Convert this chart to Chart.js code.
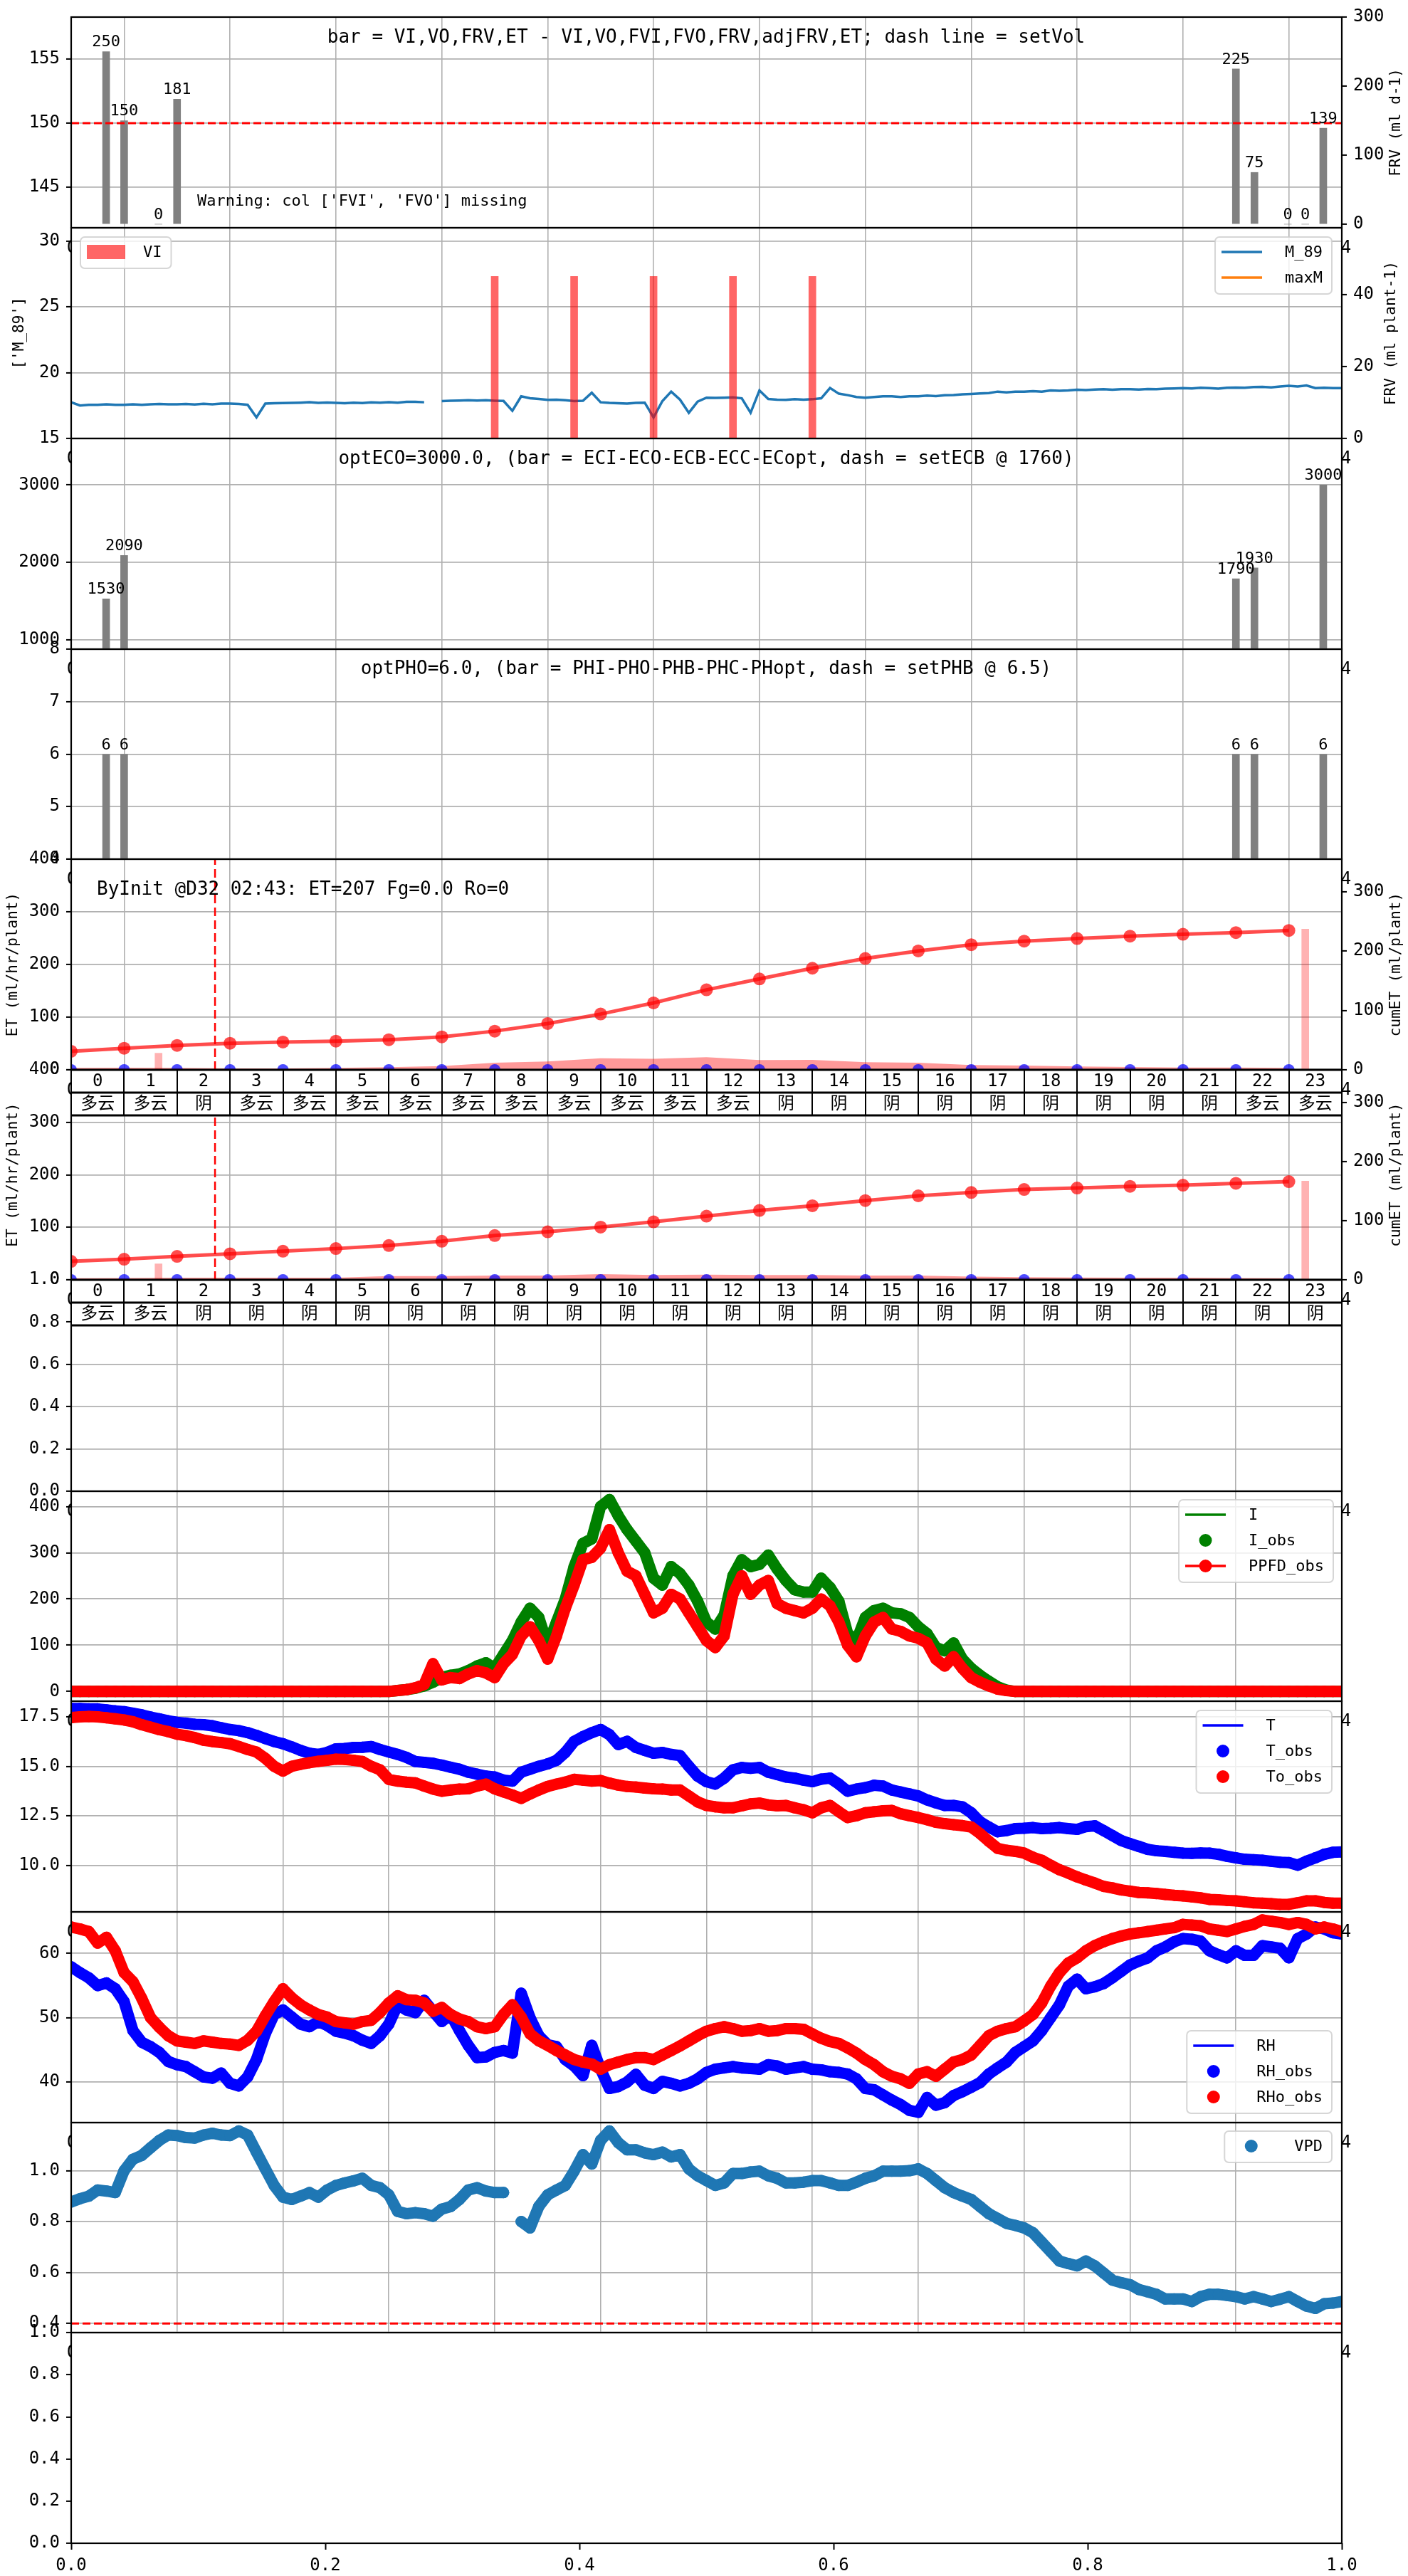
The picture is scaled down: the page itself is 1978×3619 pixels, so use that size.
<!DOCTYPE html>
<html><head><meta charset="utf-8">
<script src="https://cdn.jsdelivr.net/npm/chart.js@4.4.0/dist/chart.umd.min.js"></script>
<style>
html,body{margin:0;padding:0;background:#fff;}
body{width:1978px;height:3619px;position:relative;overflow:hidden;}
canvas{position:absolute;left:0;}
</style></head><body>
<script>
// ================= DATA =================
const xGridHours = [0,2,4,6,8,10,12,14,16,18,20,22,24];
const hourCats = [0,1,2,3,4,5,6,7,8,9,10,11,12,13,14,15,16,17,18,19,20,21,22,23];
const t10 = Array.from({length:145}, (_, i) => i / 6); // 10-min time stamps in hours

// Panel 1 : FRV bars (right axis) + setVol
const frvHours = [0.66,1.0,1.65,2.0,22.0,22.35,22.98,23.31,23.65];
const frvVals  = [250,150,0,181,225,75,0,0,139];
const setVol = 150;
const p1LeftTicks = [145,150,155];
const p1RightTicks = [0,100,200,300];

// Panel 2 : M_89 line + VI bars
const viHours = [8,9.5,11,12.5,14];
const viVals  = [45,45,45,45,45];
const m89 = [
 17.75,17.5,17.55,17.55,17.6,17.55,
 17.56,17.6,17.55,17.6,17.62,17.6,
 17.6,17.62,17.58,17.64,17.6,17.65,
 17.65,17.62,17.56,16.6,17.65,17.68,
 17.69,17.7,17.72,17.75,17.7,17.73,
 17.7,17.68,17.72,17.69,17.74,17.72,
 17.75,17.72,17.78,17.78,17.75,null,
 17.84,17.86,17.88,17.9,17.88,17.9,
 17.87,17.85,17.1,18.2,18.05,18.0,
 17.93,17.95,17.9,17.84,17.86,18.47,
 17.75,17.7,17.68,17.65,17.7,17.72,
 16.6,17.84,18.56,17.95,16.95,17.8,
 18.1,18.08,18.1,18.12,18.05,16.95,
 18.65,18.0,17.95,17.93,17.98,17.95,
 17.98,18.05,18.83,18.4,18.29,18.15,
 18.1,18.15,18.2,18.2,18.15,18.2,
 18.2,18.25,18.22,18.29,18.3,18.35,
 18.38,18.42,18.45,18.56,18.5,18.55,
 18.56,18.6,18.55,18.65,18.62,18.65,
 18.7,18.68,18.72,18.74,18.7,18.74,
 18.74,18.72,18.76,18.75,18.78,18.8,
 18.83,18.8,18.85,18.82,18.78,18.85,
 18.87,18.85,18.9,18.92,18.88,18.95,
 19.0,18.95,19.02,18.83,18.85,18.83,
 18.83];
const maxM = [];
const p2LeftTicks = [15,20,25,30];
const p2RightTicks = [0,20,40];

// Panel 3 : EC bars
const ecHours = [0.66,1.0,22.0,22.35,23.65];
const ecVals  = [1530,2090,1790,1930,3000];
const p3Ticks = [1000,2000,3000];

// Panel 4 : PH bars
const phHours = [0.66,1.0,22.0,22.35,23.65];
const phVals  = [6,6,6,6,6];
const p4Ticks = [4,5,6,7,8];

// Panels 5 / 6 : hourly ET
const etMarkTime = 2.717; // 02:43
const cumEtInit = [31.2,36.4,41.2,44.8,46.8,48.4,50.8,55.6,65.2,78,94,112.8,134.8,153.2,171.2,187.6,200.4,210.8,216.8,221.2,225.2,228.4,231.2,234.8];
const etInit    = [3.6,4,3.6,2.7,2.7,3.6,5,7,13.6,15.8,22,20.8,24,18.5,19,14.5,13.6,9,8,6.3,5.4,4.5,4.5,3.6];
const etObsInit = [0,0,0,0,0,0,0,0,0,0,0,0,0,0,0,0,0,0,0,0,0,0,0,0];
const cumEtWoFv = [31.2,34.8,39.6,44,48.4,52.8,58,65.2,74.8,81.2,89.2,98,107.6,117.2,125.2,134,142,147.6,152.8,155.2,158,160,163.2,166];
const etWoFv    = [3,3.5,4,4,4,4,7,7,8,8,11,9,10,9,9,8,8,6,5,4.5,4,4,3.5,3];
const etObsWoFv = [0,0,0,0,0,0,0,0,0,0,0,0,0,0,0,0,0,0,0,0,0,0,0,0];
const pinkHours = [1.65,23.31];
const pinkInit  = [28,237];
const pinkWoFv  = [27,167];
const weatherInit = ['多云','多云','阴','多云','多云','多云','多云','多云','多云','多云','多云','多云','多云','阴','阴','阴','阴','阴','阴','阴','阴','阴','多云','多云'];
const weatherWoFv = ['多云','多云','阴','阴','阴','阴','阴','阴','阴','阴','阴','阴','阴','阴','阴','阴','阴','阴','阴','阴','阴','阴','阴','阴'];
const etLeftTicks = [0,100,200,300,400];
const etRightTicks = [0,100,200,300];
const unitTicks = [0,0.2,0.4,0.6,0.8,1.0];

// Panel 8 : light
const iObs = [
 0,0,0,0,0,0, 0,0,0,0,0,0, 0,0,0,0,0,0, 0,0,0,0,0,0, 0,0,0,0,0,0, 0,0,0,0,0,0,
 0,2,4,7,12,20,
 30,35,38,45,55,62,
 50,80,110,150,180,160,
 100,150,200,270,320,330,
 400,415,380,350,325,300,
 245,230,270,255,230,195,
 150,135,165,250,285,270,
 275,295,265,240,220,215,
 215,245,225,195,125,110,
 160,175,180,170,168,160,
 140,125,95,88,105,70,
 50,35,22,10,3,0,
 0,0,0,0,0,0, 0,0,0,0,0,0, 0,0,0,0,0,0, 0,0,0,0,0,0, 0,0,0,0,0,0, 0,0,0,0,0,0,
 0];
const ppfdObs = [
 0,0,0,0,0,0, 0,0,0,0,0,0, 0,0,0,0,0,0, 0,0,0,0,0,0, 0,0,0,0,0,0, 0,0,0,0,0,0,
 0,2,4,8,15,60,
 25,30,28,38,45,40,
 30,60,80,120,140,110,
 70,120,180,230,285,290,
 310,350,300,260,250,210,
 170,180,210,200,170,140,
 110,95,120,210,250,210,
 230,240,190,180,175,170,
 180,200,185,150,100,75,
 120,150,160,135,130,120,
 115,105,70,55,75,50,
 30,20,12,5,2,0,
 0,0,0,0,0,0, 0,0,0,0,0,0, 0,0,0,0,0,0, 0,0,0,0,0,0, 0,0,0,0,0,0, 0,0,0,0,0,0,
 0];
const p8Ticks = [0,100,200,300,400];

// Panel 9 : temperature
const tObs = [
 17.92,17.92,17.9,17.9,17.85,17.8,
 17.76,17.68,17.6,17.49,17.4,17.3,
 17.22,17.18,17.12,17.1,17.05,16.95,
 16.86,16.8,16.7,16.56,16.4,16.25,
 16.14,15.98,15.8,15.66,15.6,15.7,
 15.88,15.9,15.95,15.96,16.0,15.85,
 15.72,15.6,15.45,15.24,15.2,15.15,
 15.06,14.95,14.85,14.7,14.6,14.5,
 14.46,14.3,14.25,14.7,14.85,15.0,
 15.12,15.3,15.7,16.26,16.5,16.7,
 16.86,16.6,16.1,16.26,15.95,15.8,
 15.66,15.7,15.6,15.54,15.0,14.5,
 14.22,14.1,14.4,14.82,14.94,14.9,
 14.94,14.7,14.58,14.46,14.4,14.3,
 14.22,14.35,14.4,14.1,13.74,13.85,
 13.92,14.04,14.0,13.8,13.7,13.6,
 13.5,13.3,13.15,13.02,13.02,12.95,
 12.65,12.2,11.93,11.69,11.75,11.85,
 11.87,11.9,11.85,11.87,11.9,11.85,
 11.81,11.95,11.99,11.75,11.5,11.25,
 11.09,10.95,10.8,10.73,10.7,10.65,
 10.61,10.6,10.62,10.61,10.55,10.45,
 10.37,10.3,10.28,10.25,10.2,10.15,
 10.13,10.0,10.2,10.37,10.55,10.65,
 10.67];
const toObs = [
 17.46,17.5,17.52,17.5,17.45,17.4,
 17.34,17.25,17.1,16.98,16.85,16.75,
 16.62,16.55,16.45,16.32,16.25,16.2,
 16.14,16.0,15.85,15.72,15.4,15.0,
 14.76,15.0,15.1,15.18,15.25,15.3,
 15.36,15.35,15.3,15.24,15.0,14.82,
 14.34,14.25,14.2,14.16,14.0,13.85,
 13.74,13.8,13.85,13.86,14.0,14.1,
 13.86,13.7,13.55,13.38,13.6,13.8,
 13.98,14.1,14.2,14.34,14.3,14.25,
 14.28,14.15,14.05,13.98,13.95,13.9,
 13.86,13.85,13.8,13.8,13.5,13.2,
 13.02,12.95,12.9,12.9,13.0,13.1,
 13.14,13.05,13.0,13.02,12.9,12.8,
 12.65,12.9,13.02,12.7,12.41,12.5,
 12.65,12.7,12.75,12.77,12.6,12.5,
 12.41,12.3,12.17,12.1,12.05,12.0,
 11.93,11.6,11.21,10.85,10.75,10.7,
 10.61,10.4,10.25,10.0,9.77,9.6,
 9.41,9.25,9.1,8.93,8.85,8.75,
 8.69,8.62,8.6,8.57,8.52,8.48,
 8.45,8.4,8.35,8.27,8.25,8.22,
 8.2,8.15,8.1,8.08,8.05,8.02,
 8.02,8.1,8.2,8.2,8.12,8.08,
 8.08];
const p9Ticks = [10,12.5,15,17.5];

// Panel 10 : relative humidity
const rhObs = [
 57.9,57,56.2,55,55.4,54.5,
 52.5,48,46.2,45.5,44.6,43.2,
 42.7,42.4,41.6,40.8,40.6,41.4,
 39.8,39.4,40.8,43.5,47.5,50.5,
 51.2,50.1,49,48.6,49.4,48.8,
 47.9,47.6,47.2,46.5,46,47.2,
 49,52,51.2,50.8,52.7,51,
 49.4,50.5,48,45.7,43.8,43.9,
 44.6,44.9,44.5,53.8,50,47.2,
 45.8,45.5,43.5,42.5,41,45.7,
 42,39,39.3,40,41.2,39.5,
 39,40.1,39.8,39.4,39.8,40.5,
 41.5,42,42.2,42.4,42.2,42.1,
 42,42.7,42.5,42,42.2,42.4,
 42,41.9,41.6,41.5,41.25,40.5,
 39,38.8,38,37.2,36.5,35.6,
 35.3,37.6,36.4,36.8,37.9,38.5,
 39.2,39.9,41.25,42.2,43.1,44.6,
 45.5,46.4,48,50,52,54.9,
 56,54.5,54.8,55.3,56.2,57.2,
 58.2,58.8,59.3,60.4,61,61.8,
 62.3,62.2,61.9,60.4,59.8,59.3,
 60.4,59.7,59.7,61.2,61,60.8,
 59.3,62.3,63,64.1,63.8,63.2,
 63];
const rhoObs = [
 64.1,63.8,63.4,61.6,62.5,60.4,
 57,55.6,53,50,48.5,47.2,
 46.4,46.2,46,46.4,46.2,46,
 45.9,45.7,46.5,47.9,50.3,52.5,
 54.5,53.1,52,51.2,50.5,50.1,
 49.4,49.2,49,49.4,49.6,50.8,
 52.3,53.4,52.8,52.7,52.3,51,
 51.6,50.5,49.8,49.4,48.6,48.3,
 48.6,50.5,52,50.1,47.5,46.4,
 45.7,44.9,44.2,43.5,43.1,42.8,
 42,42.7,43.1,43.5,43.8,43.8,
 43.5,44.2,44.9,45.6,46.4,47.2,
 47.9,48.3,48.6,48.3,47.9,48,
 48.3,47.9,48,48.3,48.3,48.2,
 47.5,46.8,46.3,46,45.3,44.5,
 43.5,42.7,41.6,40.9,40.5,39.8,
 41.25,41.6,40.9,42,43.1,43.5,
 44.2,45.7,47.2,47.9,48.3,48.6,
 49.5,50.5,52.3,54.9,57,58.5,
 59.3,60.4,61.2,61.8,62.3,62.7,
 63,63.2,63.4,63.6,63.8,64,
 64.5,64.4,64.3,63.8,63.6,63.4,
 63.8,64.2,64.5,65.2,65,64.8,
 64.5,64.8,64.5,63.8,64.1,63.8,
 63.4];
const p10Ticks = [40,50,60];

// Panel 11 : VPD
const vpdObs = [
 0.877,0.89,0.9,0.924,0.92,0.914,
 1.0,1.045,1.06,1.09,1.119,1.14,
 1.138,1.13,1.128,1.14,1.147,1.14,
 1.138,1.156,1.14,1.073,1.007,0.942,
 0.896,0.887,0.9,0.914,0.896,0.924,
 0.942,0.952,0.96,0.97,0.942,0.933,
 0.905,0.84,0.831,0.835,0.831,0.821,
 0.849,0.859,0.887,0.924,0.933,0.92,
 0.914,0.914,null,0.8,0.775,0.86,
 0.905,0.924,0.942,0.998,1.063,1.026,
 1.119,1.156,1.11,1.082,1.082,1.07,
 1.063,1.073,1.054,1.063,1.007,0.98,
 0.961,0.942,0.952,0.989,0.989,0.995,
 0.998,0.98,0.97,0.952,0.952,0.955,
 0.961,0.961,0.952,0.942,0.942,0.955,
 0.97,0.98,0.998,0.998,0.998,1.0,
 1.007,0.989,0.961,0.933,0.914,0.9,
 0.887,0.859,0.831,0.812,0.793,0.785,
 0.775,0.756,0.719,0.682,0.645,0.635,
 0.626,0.645,0.626,0.598,0.57,0.56,
 0.552,0.533,0.524,0.514,0.496,0.496,
 0.496,0.486,0.505,0.514,0.514,0.51,
 0.505,0.496,0.505,0.496,0.486,0.495,
 0.505,0.486,0.468,0.459,0.477,0.48,
 0.486];
const vpdSet = 0.4;
const p11Ticks = [0.4,0.6,0.8,1.0];

// ================= LAYOUT / HELPERS =================
const FONT = '"DejaVu Sans Mono","Noto Sans CJK SC",monospace';
Chart.defaults.font.family = FONT;
Chart.defaults.color = '#000';
const W = 1978, L = 100, R = 1885;
const TOPS = [24,320,616,912,1207,1503,1798,2095,2390,2686,2982,3277,3573];
const GRID = '#b0b0b0';
const DECO = {};

function xy(xs, ys){ return xs.map((x,i)=>({x:x, y:ys[i]})); }
function xAxis(){
  return {type:'linear', min:0, max:24, offset:false,
    afterBuildTicks: s => { s.ticks = xGridHours.map(v=>({value:v})); },
    afterFit: s => { s.height = 0; },
    ticks:{display:false},
    grid:{color:GRID, lineWidth:1.6, drawTicks:false},
    border:{display:false}};
}
function yAxis(pos, min, max, vals, fmt, grid){
  return {type:'linear', position:pos, min:min, max:max,
    afterBuildTicks: s => { s.ticks = vals.map(v=>({value:v})); },
    afterFit: s => { s.width = pos==='left' ? L : (W-R); },
    ticks:{color:'#000', font:{family:FONT,size:24}, padding:9, autoSkip:false, maxRotation:0,
      callback: v => fmt ? fmt(v) : String(v)},
    grid:{color:GRID, lineWidth:1.8, drawOnChartArea:grid, tickColor:'#000', tickLength:7, tickWidth:2},
    border:{display:false}};
}
const f1 = v => v.toFixed(1);

function roundRect(ctx,x,y,w,h,r){
  ctx.beginPath(); ctx.moveTo(x+r,y); ctx.arcTo(x+w,y,x+w,y+h,r); ctx.arcTo(x+w,y+h,x,y+h,r);
  ctx.arcTo(x,y+h,x,y,r); ctx.arcTo(x,y,x+w,y,r); ctx.closePath();
}
function drawLegend(ctx, lg, oy){
  ctx.font = '22px ' + FONT;
  const tw = Math.max.apply(null, lg.items.map(it => ctx.measureText(it.label).width));
  const hl = 57, pad = 9, gap = lg.gap || 32, rowH = 36;
  const w = pad + hl + gap + tw + 13;
  const x0 = (lg.left !== undefined) ? lg.left : lg.right - w;
  const y0 = lg.top - oy;
  const h = 21 + (lg.items.length-1)*rowH + 23;
  roundRect(ctx, x0, y0, w, h, 6);
  ctx.fillStyle = 'rgba(255,255,255,0.8)'; ctx.fill();
  ctx.strokeStyle = 'rgba(204,204,204,0.8)'; ctx.lineWidth = 2; ctx.stroke();
  lg.items.forEach((it, k) => {
    const cy = y0 + 21 + k*rowH, hx = x0 + pad;
    if (it.rect){ ctx.fillStyle = it.rect; ctx.fillRect(hx, cy-10, hl-3, 20); }
    if (it.line){ ctx.strokeStyle = it.line; ctx.lineWidth = 3.5; ctx.beginPath(); ctx.moveTo(hx,cy); ctx.lineTo(hx+hl,cy); ctx.stroke(); }
    if (it.marker){ ctx.fillStyle = it.marker; ctx.beginPath(); ctx.arc(hx+hl/2, cy, 9, 0, Math.PI*2); ctx.fill(); }
    ctx.fillStyle = '#000'; ctx.textAlign = 'left'; ctx.textBaseline = 'middle';
    ctx.fillText(it.label, hx + hl + gap, cy + 1);
  });
}

Chart.register({
  id:'deco',
  afterDatasetsDraw(chart){
    const o = DECO[chart.canvas.id]; if (!o) return;
    const ctx = chart.ctx, a = chart.chartArea, oy = o.oy;
    ctx.save();
    ctx.strokeStyle = '#000'; ctx.lineWidth = 2.2;
    ctx.strokeRect(a.left, a.top, a.right-a.left, a.bottom-a.top);
    (o.barLabels||[]).forEach(di => {
      const meta = chart.getDatasetMeta(di), ds = chart.data.datasets[di];
      ctx.font = '22px ' + FONT; ctx.fillStyle = '#000'; ctx.textAlign = 'center'; ctx.textBaseline = 'alphabetic';
      meta.data.forEach((el, j) => ctx.fillText(String(ds.data[j].y), el.x, el.y - 7));
    });
    (o.texts||[]).forEach(t => {
      ctx.font = (t.size||26) + 'px ' + FONT; ctx.fillStyle = '#000';
      ctx.textAlign = t.align || 'center'; ctx.textBaseline = 'middle';
      ctx.fillText(t.t, t.x, t.y - oy);
    });
    (o.vlabels||[]).forEach(t => {
      ctx.save(); ctx.translate(t.x, t.y - oy); ctx.rotate(-Math.PI/2);
      ctx.font = '21px ' + FONT; ctx.fillStyle = '#000'; ctx.textAlign = 'center'; ctx.textBaseline = 'middle';
      ctx.fillText(t.t, 0, 0); ctx.restore();
    });
    (o.legends||[]).forEach(lg => drawLegend(ctx, lg, oy));
    if (o.table){
      const xs = chart.scales.x, tb = o.table, y0 = tb.top - oy, rh = 32;
      const xl = xs.getPixelForValue(0), xr = xs.getPixelForValue(24);
      ctx.fillStyle = '#fff'; ctx.fillRect(xl, y0, xr-xl, rh*2);
      ctx.fillStyle = '#000'; ctx.textAlign = 'center'; ctx.textBaseline = 'middle';
      tb.rows.forEach((row, r) => {
        ctx.font = '24px ' + FONT;
        row.forEach((txt, k) => {
          const cx = (xs.getPixelForValue(k) + xs.getPixelForValue(k+1)) / 2;
          ctx.fillText(String(txt), cx, y0 + r*rh + rh/2 + 1);
        });
      });
      ctx.strokeStyle = '#000';
      ctx.lineWidth = 3;
      [0,1,2].forEach(r => { ctx.beginPath(); ctx.moveTo(xl, y0 + r*rh); ctx.lineTo(xr, y0 + r*rh); ctx.stroke(); });
      ctx.lineWidth = 2;
      for (let k = 0; k <= 24; k++){
        const px = Math.round(xs.getPixelForValue(k));
        ctx.beginPath(); ctx.moveTo(px, y0); ctx.lineTo(px, y0 + 2*rh); ctx.stroke();
      }
    }
    if (o.edge){
      ctx.font = '24px ' + FONT; ctx.fillStyle = '#000'; ctx.textAlign = 'center'; ctx.textBaseline = 'middle';
      const y = a.top + 29;
      ctx.save(); ctx.beginPath(); ctx.rect(0, 0, a.left - 1, chart.height); ctx.clip();
      ctx.fillText('0', a.left + 1, y); ctx.restore();
      ctx.save(); ctx.beginPath(); ctx.rect(a.right + 1, 0, chart.width, chart.height); ctx.clip();
      ctx.fillText('4', a.right + 6, y); ctx.restore();
    }
    ctx.restore();
  }
});

function build(i, cfg){
  const padT = 40, padB = cfg.padB || 40, xH = cfg.xH || 0;
  const top = TOPS[i], bot = TOPS[i+1];
  const H = (bot - top) + padT + padB + xH;
  const c = document.createElement('canvas');
  c.id = 'p' + i; c.width = W; c.height = H;
  c.style.top = (top - padT) + 'px'; c.style.width = W + 'px'; c.style.height = H + 'px';
  c.style.zIndex = String(100 - i);
  document.body.appendChild(c);
  DECO[c.id] = Object.assign({oy: top - padT, edge: i > 0}, cfg.deco || {});
  new Chart(c, {
    type:'line',
    data:{datasets: cfg.datasets},
    options:{
      responsive:false, maintainAspectRatio:false, animation:false, devicePixelRatio:1,
      layout:{padding:{top:padT, bottom:padB, left:0, right: cfg.hasRight ? 0 : (W-R)}},
      plugins:{legend:{display:false}, tooltip:{enabled:false}},
      elements:{line:{tension:0}},
      scales: cfg.scales
    }
  });
}
function dots(xs, ys, color, r, axis, order){
  return {type:'line', data:xy(xs,ys), yAxisID:axis||'y', showLine:false, pointRadius:r,
    pointBackgroundColor:color, pointBorderWidth:0, borderColor:color, order:order||0};
}
// dense observation markers: markers joined by a stroke as wide as the marker
function band(xs, ys, color, r, axis, order){
  return {type:'line', data:xy(xs,ys), yAxisID:axis||'y', showLine:true, borderWidth:2*r,
    borderCapStyle:'round', borderJoinStyle:'round', borderColor:color, pointRadius:r,
    pointBackgroundColor:color, pointBorderWidth:0, order:order||0};
}
function lineDs(xs, ys, color, lw, axis, order, extra){
  return Object.assign({type:'line', data:xy(xs,ys), yAxisID:axis||'y', borderColor:color, borderWidth:lw,
    pointRadius:0, fill:false, order:order||0}, extra||{});
}
function bars(xs, ys, color, axis, order){
  return {type:'bar', data:xy(xs,ys), yAxisID:axis||'y', backgroundColor:color, barThickness:10, order:order||0};
}

// ================= PANELS =================
build(0, {hasRight:true,
  datasets:[
    bars(frvHours, frvVals, '#808080', 'y2', 1),
    lineDs([0,24], [setVol,setVol], '#ff0000', 3, 'y', 0, {borderDash:[11,5]})
  ],
  scales:{x:xAxis(), y:yAxis('left',141.8,158.3,p1LeftTicks,null,true), y2:yAxis('right',-5.2,300,p1RightTicks,null,false)},
  deco:{barLabels:[0],
    texts:[{t:'bar = VI,VO,FRV,ET - VI,VO,FVI,FVO,FRV,adjFRV,ET; dash line = setVol', x:992, y:53},
           {t:"Warning: col ['FVI', 'FVO'] missing", x:277, y:283, size:22, align:'left'}],
    vlabels:[{t:'FRV (ml d-1)', x:1962, y:172}]}
});
build(1, {hasRight:true,
  datasets:[
    bars(viHours, viVals, 'rgba(255,0,0,0.6)', 'y2', 0),
    lineDs(t10, m89, '#1f77b4', 3.5, 'y', 1),
    lineDs(t10, maxM, '#ff7f0e', 3, 'y', 2)
  ],
  scales:{x:xAxis(), y:yAxis('left',15,31,p2LeftTicks,null,true), y2:yAxis('right',0,58.5,p2RightTicks,null,false)},
  deco:{vlabels:[{t:"['M_89']", x:28, y:468},{t:'FRV (ml plant-1)', x:1955, y:468}],
    legends:[{left:113, top:333, gap:22, items:[{label:'VI', rect:'rgba(255,0,0,0.6)'}]},
             {right:1871, top:333, items:[{label:'M_89', line:'#1f77b4'},{label:'maxM', line:'#ff7f0e'}]}]}
});
build(2, {
  datasets:[bars(ecHours, ecVals, '#808080', 'y', 0)],
  scales:{x:xAxis(), y:yAxis('left',880,3600,p3Ticks,null,true)},
  deco:{barLabels:[0], texts:[{t:'optECO=3000.0, (bar = ECI-ECO-ECB-ECC-ECopt, dash = setECB @ 1760)', x:992, y:645}]}
});
build(3, {
  datasets:[bars(phHours, phVals, '#808080', 'y', 0)],
  scales:{x:xAxis(), y:yAxis('left',4,8,p4Ticks,null,true)},
  deco:{barLabels:[0], texts:[{t:'optPHO=6.0, (bar = PHI-PHO-PHB-PHC-PHopt, dash = setPHB @ 6.5)', x:992, y:940}]}
});
function etPanel(i, cum, et, obs, pink, label, weather){
  const top = TOPS[i], mid = (TOPS[i] + TOPS[i+1]) / 2;
  build(i, {hasRight:true, padB:80,
    datasets:[
      lineDs([etMarkTime,etMarkTime], [0,400], '#ff0000', 2.5, 'y', 0, {borderDash:[12,6]}),
      dots(hourCats, obs, 'rgba(0,0,255,0.7)', 8, 'y', 1),
      Object.assign(lineDs(hourCats, cum, 'rgba(255,0,0,0.7)', 5, 'y2', 2),
        {pointRadius:9, pointBackgroundColor:'rgba(255,0,0,0.7)', pointBorderWidth:0}),
      bars(pinkHours, pink, 'rgba(255,0,0,0.3)', 'y2', 3),
      lineDs(hourCats, et, 'rgba(255,0,0,0)', 0, 'y', 4, {fill:'origin', backgroundColor:'rgba(255,0,0,0.4)'})
    ],
    scales:{x:xAxis(), y:yAxis('left',0,400,etLeftTicks,null,true), y2:yAxis('right',0,355,etRightTicks,null,false)},
    deco:{texts:[{t:label, x:136, y:top + 43, align:'left'}],
      vlabels:[{t:'ET (ml/hr/plant)', x:19, y:mid},{t:'cumET (ml/plant)', x:1962, y:mid}],
      table:{top:TOPS[i+1], rows:[hourCats, weather]}}
  });
}
etPanel(4, cumEtInit, etInit, etObsInit, pinkInit, 'ByInit @D32 02:43: ET=207 Fg=0.0 Ro=0', weatherInit);
etPanel(5, cumEtWoFv, etWoFv, etObsWoFv, pinkWoFv, 'ByWoFv @D32 02:43: ET=139 Fg=0.0 Ro=0', weatherWoFv);
build(6, {datasets:[], scales:{x:xAxis(), y:yAxis('left',0,1,unitTicks,f1,true)}});
build(7, {
  datasets:[
    band(t10, ppfdObs, '#ff0000', 8, 'y', 0),
    band(t10, iObs, '#008000', 8, 'y', 1),
    lineDs(t10, iObs, '#008000', 2, 'y', 2)
  ],
  scales:{x:xAxis(), y:yAxis('left',-21,433,p8Ticks,null,true)},
  deco:{legends:[{right:1873, top:2107, items:[{label:'I', line:'#008000'},{label:'I_obs', marker:'#008000'},{label:'PPFD_obs', line:'#ff0000', marker:'#ff0000'}]}]}
});
build(8, {
  datasets:[
    band(t10, toObs, '#ff0000', 8, 'y', 0),
    band(t10, tObs, '#0000ff', 8, 'y', 1),
    lineDs(t10, tObs, '#0000ff', 2, 'y', 2)
  ],
  scales:{x:xAxis(), y:yAxis('left',7.64,18.29,p9Ticks,f1,true)},
  deco:{legends:[{right:1871, top:2403, items:[{label:'T', line:'#0000ff'},{label:'T_obs', marker:'#0000ff'},{label:'To_obs', marker:'#ff0000'}]}]}
});
build(9, {
  datasets:[
    band(t10, rhoObs, '#ff0000', 8, 'y', 0),
    band(t10, rhObs, '#0000ff', 8, 'y', 1),
    lineDs(t10, rhObs, '#0000ff', 2, 'y', 2)
  ],
  scales:{x:xAxis(), y:yAxis('left',33.7,66.45,p10Ticks,null,true)},
  deco:{legends:[{right:1871, top:2853, items:[{label:'RH', line:'#0000ff'},{label:'RH_obs', marker:'#0000ff'},{label:'RHo_obs', marker:'#ff0000'}]}]}
});
build(10, {
  datasets:[
    lineDs([0,24], [vpdSet,vpdSet], '#ff0000', 3, 'y', 0, {borderDash:[11,5]}),
    band(t10, vpdObs, '#1f77b4', 8, 'y', 1)
  ],
  scales:{x:xAxis(), y:yAxis('left',0.364,1.189,p11Ticks,f1,true)},
  deco:{legends:[{right:1871, top:2994, items:[{label:'VPD', marker:'#1f77b4'}]}]}
});
build(11, {padB:10, xH:50,
  datasets:[],
  scales:{
    x:{type:'linear', min:0, max:1, offset:false,
      afterBuildTicks: s => { s.ticks = unitTicks.map(v=>({value:v})); },
      afterFit: s => { s.height = 50; },
      ticks:{color:'#000', font:{family:FONT,size:24}, padding:8, autoSkip:false, maxRotation:0, callback: v => v.toFixed(1)},
      grid:{drawOnChartArea:false, tickLength:9, tickColor:'#000', tickWidth:2, color:'#000'},
      border:{display:false}},
    y: yAxis('left',0,1,unitTicks,f1,false)
  }
});
</script>
</body></html>
